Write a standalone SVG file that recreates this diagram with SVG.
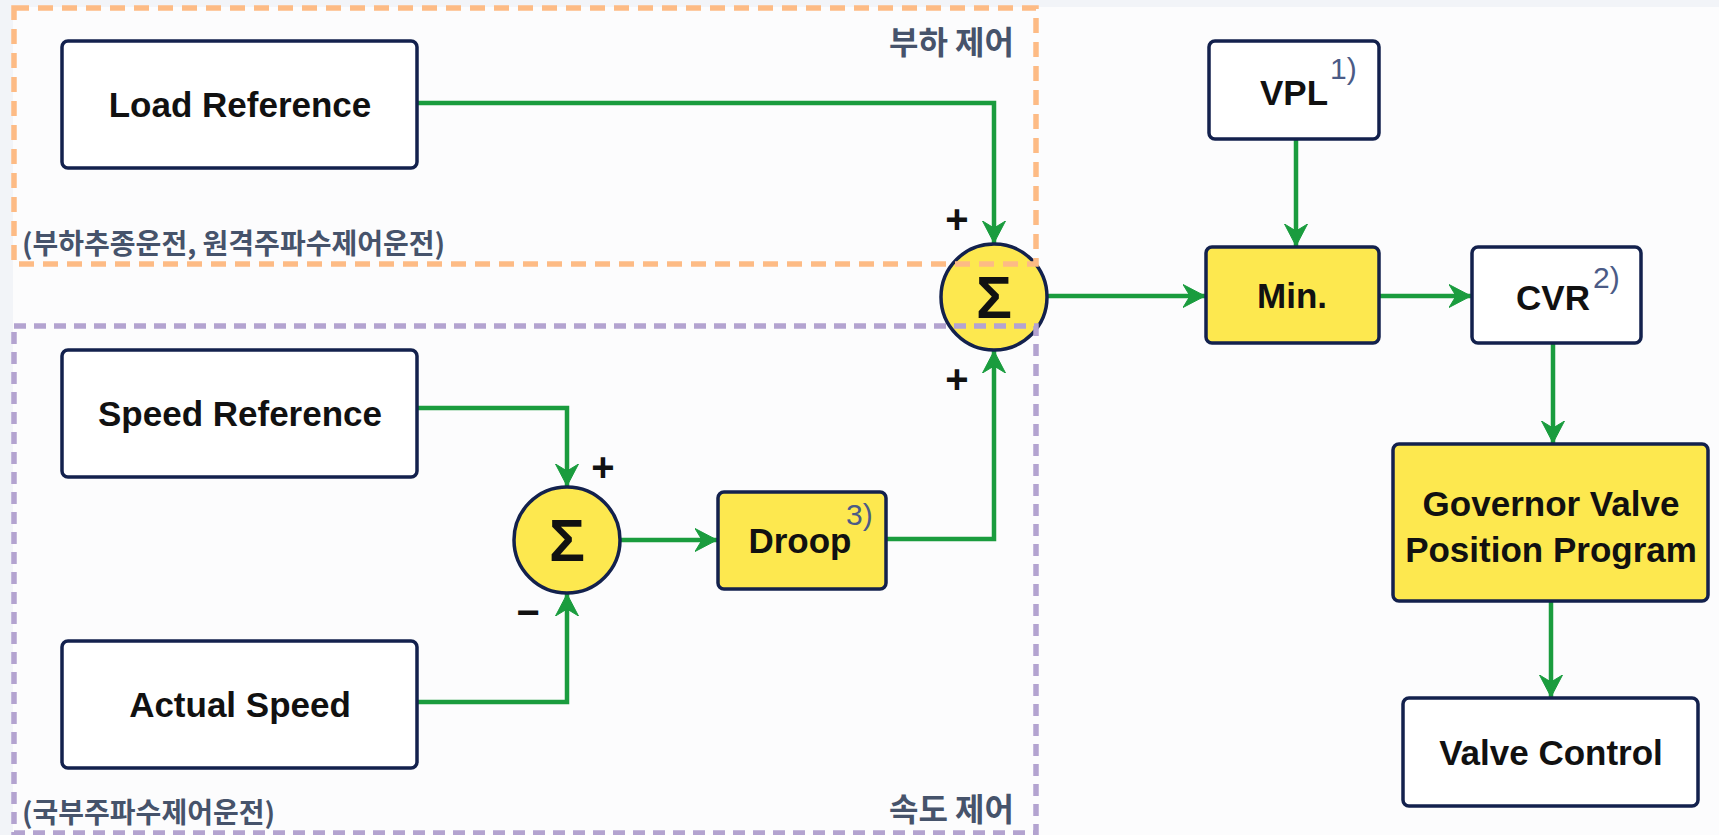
<svg xmlns="http://www.w3.org/2000/svg" width="1719" height="835" viewBox="0 0 1719 835">
<defs>
<marker id="arr" markerUnits="userSpaceOnUse" markerWidth="26" markerHeight="26" refX="22" refY="12" orient="auto">
<path d="M0,0.5 L22,12 L0,23.5 L7,12 Z" fill="#1a9c3e" stroke="#1a9c3e" stroke-width="1" stroke-linejoin="round"/>
</marker>
<style>
.box{fill:#ffffff;stroke:#13214d;stroke-width:3.5}
.yel{fill:#fde84f;stroke:#13214d;stroke-width:3.5}
.lbl{font-family:"Liberation Sans",Arial,sans-serif;font-weight:bold;font-size:35px;fill:#111111;text-anchor:middle}
.sig{font-family:"Liberation Sans",Arial,sans-serif;font-weight:bold;font-size:60px;fill:#111111;text-anchor:middle}
.sgn{font-family:"Liberation Sans",Arial,sans-serif;font-weight:bold;font-size:40px;fill:#111111;text-anchor:middle}
.sup{font-family:"Liberation Sans",Arial,sans-serif;font-size:30px;fill:#4b5b86}
.kr{font-family:"Noto Sans CJK KR","Noto Sans",sans-serif;font-weight:bold;fill:#46536b}
.wire{fill:none;stroke:#1a9c3e;stroke-width:4.5;marker-end:url(#arr)}
.grp{fill:none;stroke-width:5.5}
</style>
</defs>
<rect x="0" y="0" width="1719" height="835" fill="#f2f4f8"/>
<rect x="13" y="7" width="1706" height="828" fill="#fcfcfd"/>

<g id="connectors">
<path class="wire" d="M417,103 H994 V243"/>
<path class="wire" d="M886,539 H994 V351"/>
<path class="wire" d="M417,408 H567 V486"/>
<path class="wire" d="M417,702 H567 V594"/>
<path class="wire" d="M620,540 H717"/>
<path class="wire" d="M1047,296 H1205"/>
<path class="wire" d="M1296,139 V246"/>
<path class="wire" d="M1379,296 H1471"/>
<path class="wire" d="M1553,343 V443"/>
<path class="wire" d="M1551,601 V697"/>
</g>

<g id="load-reference">
<rect class="box" x="62" y="41" width="355" height="127" rx="6"/>
<text class="lbl" x="240" y="117">Load Reference</text>
</g>
<g id="speed-reference">
<rect class="box" x="62" y="350" width="355" height="127" rx="6"/>
<text class="lbl" x="240" y="426">Speed Reference</text>
</g>
<g id="actual-speed">
<rect class="box" x="62" y="641" width="355" height="127" rx="6"/>
<text class="lbl" x="240" y="717">Actual Speed</text>
</g>
<g id="sum-speed">
<circle class="yel" cx="567" cy="540" r="53"/>
<text class="sig" x="567" y="561">Σ</text>
<text class="sgn" x="603" y="481">+</text>
<text class="sgn" x="528" y="626">−</text>
</g>
<g id="droop">
<rect class="yel" x="718" y="492" width="168" height="97" rx="6"/>
<text class="lbl" x="800" y="553">Droop</text>
<text class="sup" x="846" y="525">3)</text>
</g>
<g id="sum-main">
<circle class="yel" cx="994" cy="297" r="53"/>
<text class="sig" x="994" y="318">Σ</text>
<text class="sgn" x="957" y="233">+</text>
<text class="sgn" x="957" y="393">+</text>
</g>
<g id="vpl">
<rect class="box" x="1209" y="41" width="170" height="98" rx="6"/>
<text class="lbl" x="1294" y="105">VPL</text>
<text class="sup" x="1330" y="79">1)</text>
</g>
<g id="min">
<rect class="yel" x="1206" y="247" width="173" height="96" rx="6"/>
<text class="lbl" x="1292" y="308">Min.</text>
</g>
<g id="cvr">
<rect class="box" x="1472" y="247" width="169" height="96" rx="6"/>
<text class="lbl" x="1553" y="310">CVR</text>
<text class="sup" x="1593" y="288">2)</text>
</g>
<g id="gvpp">
<rect class="yel" x="1393" y="444" width="315" height="157" rx="6"/>
<text class="lbl" x="1551" y="516">Governor Valve</text>
<text class="lbl" x="1551" y="562">Position Program</text>
</g>
<g id="valve-control">
<rect class="box" x="1403" y="698" width="295" height="108" rx="6"/>
<text class="lbl" x="1551" y="765">Valve Control</text>
</g>

<g id="group-load">
<rect class="grp" x="14" y="8" width="1022" height="256" stroke="#fdbb85" stroke-dasharray="15 9"/>
<text class="kr" x="1014" y="54" font-size="32" text-anchor="end">부하 제어</text>
<text class="kr" x="22" y="254" font-size="28">(부하추종운전, 원격주파수제어운전)</text>
</g>
<g id="group-speed">
<rect class="grp" x="14" y="326" width="1022" height="507" stroke="#b3a3d0" stroke-dasharray="12 8"/>
<text class="kr" x="1014" y="821" font-size="32" text-anchor="end">속도 제어</text>
<text class="kr" x="22" y="823" font-size="28">(국부주파수제어운전)</text>
</g>
</svg>
